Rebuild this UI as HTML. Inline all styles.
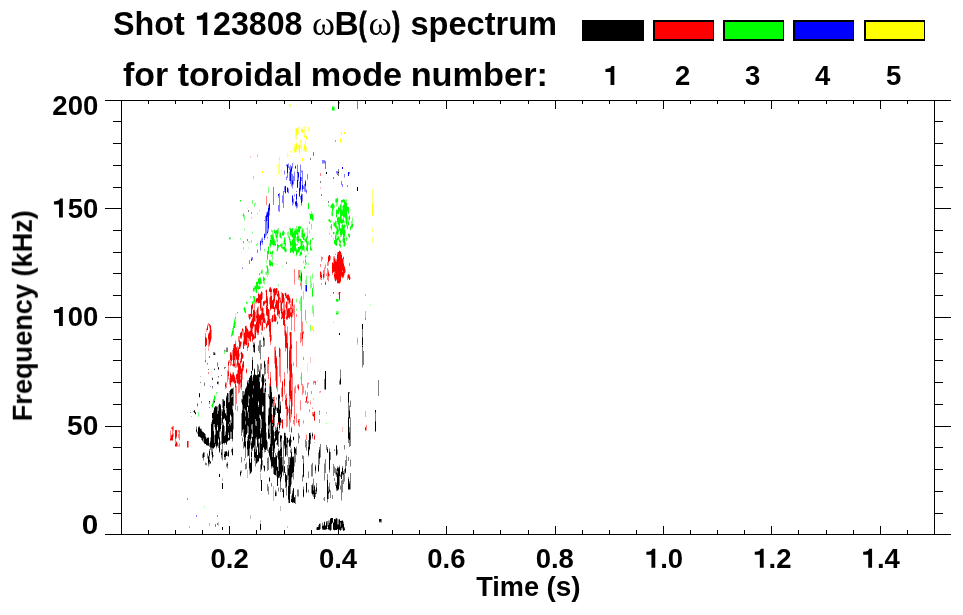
<!DOCTYPE html>
<html><head><meta charset="utf-8"><title>Shot 123808 spectrum</title>
<style>
html,body{margin:0;padding:0;background:#fff;}
body{width:963px;height:615px;overflow:hidden;font-family:"Liberation Sans",sans-serif;}
svg{display:block;}
svg text{font-family:"Liberation Sans",sans-serif;font-weight:bold;fill:#000;}
</style></head><body>
<svg width="963" height="615" viewBox="0 0 963 615">
<rect x="0" y="0" width="963" height="615" fill="#fff"/>
<g>
<g transform="translate(0.5,0)" stroke-width="1" fill="none" shape-rendering="crispEdges">
<path stroke="#ffffbf" d="M276 174v2M278 163v1M278 174v1M280 175v1M281 175v1M290 106v1M290 150v1M290 152v1M291 106v1M292 150v1M293 150v1M295 128v1M295 138v1M295 145v1M295 152v1M296 141v1M297 127v1M298 134v1M298 150v1M299 153v1M300 129v1M300 139v1M300 148v1M301 127v1M303 150v1M304 137v1M304 151v1M305 152v1M306 135v1M309 127v1M340 132v1M341 139v1M341 142v1"/>
<path stroke="#ffff80" d="M265 169v2M276 166v1M278 164v10M279 160v15M281 169v6M287 153v4M288 155v1M289 106v1M290 104v2M290 151v1M291 105v1M293 147v3M293 160v5M294 144v5M294 152v1M295 129v9M296 128v1M296 135v5M296 142v1M296 150v2M297 134v2M298 127v7M298 147v3M299 126v2M299 135v1M299 144v1M300 140v8M301 128v1M301 140v6M301 148v3M302 129v1M303 127v7M303 147v3M304 126v9M304 144v1M304 150v1M305 140v6M306 139v1M306 147v5M308 127v5M309 128v2M311 327v3M340 138v1M340 142v1M341 134v2M341 140v2M372 189v15M372 215v1M372 228v4M372 237v6"/>
<path stroke="#ffff40" d="M294 149v1M294 151v1M295 146v1M295 151v1M296 143v1M296 149v1M298 145v1M299 152v1M301 131v1M301 146v2M302 132v1M304 135v1M304 149v1M306 136v1"/>
<path stroke="#ffff00" d="M262 171v2M279 157v3M289 104v2M294 150v1M295 147v4M296 129v6M296 144v5M297 128v6M298 146v1M299 145v7M301 129v2M302 130v2M302 158v3M304 136v1M304 145v4M305 146v6M306 137v2M312 326v4M340 139v3M341 132v2M344 132v2M372 204v11"/>
<path stroke="#bfffbf" d="M204 506v2M211 404v1M212 401v1M212 408v1M213 405v1M215 396v1M216 394v1M229 239v1M230 239v1M231 332v1M234 318v1M235 313v1M235 320v1M235 325v1M237 313v1M240 239v1M241 252v1M242 215v1M243 243v1M243 249v1M244 220v1M244 228v1M244 230v1M244 312v1M245 307v1M246 301v1M247 208v1M247 304v1M248 241v2M248 247v2M249 241v1M250 298v1M251 218v1M251 296v2M252 231v1M252 233v1M254 291v1M255 204v1M255 285v1M256 281v1M257 214v1M257 245v1M257 281v1M258 285v1M259 211v1M259 275v1M260 272v2M260 284v1M260 286v1M260 288v1M261 269v1M262 269v1M263 283v1M264 251v1M264 277v1M264 284v1M265 274v1M266 260v1M266 262v2M266 271v1M267 260v1M268 254v1M268 268v1M269 259v1M270 237v1M270 247v1M270 266v1M271 229v1M271 234v1M272 230v1M272 250v1M272 260v1M272 266v1M273 233v1M273 246v1M273 250v2M274 229v1M274 233v1M275 230v1M275 237v1M275 246v1M276 249v1M276 264v1M277 228v1M277 242v2M277 251v1M277 264v1M278 248v1M278 286v1M279 232v1M279 246v1M280 231v1M280 246v1M281 235v1M281 242v1M283 230v1M283 240v1M283 246v1M284 234v1M284 251v1M285 252v1M286 248v1M287 235v1M288 231v1M289 227v1M289 236v1M289 242v1M290 227v1M290 236v1M291 241v1M292 238v1M292 252v1M293 253v1M294 251v1M294 255v1M295 251v1M296 240v1M296 256v1M296 298v1M296 302v1M296 308v1M297 228v1M297 242v2M299 240v1M299 246v1M299 253v1M299 280v1M299 300v1M300 229v1M300 238v1M300 251v1M300 256v1M300 286v1M300 297v1M301 237v1M301 239v1M302 238v1M303 228v1M303 260v1M303 263v1M303 299v1M304 232v1M305 238v1M305 249v1M305 255v1M305 279v1M306 228v2M306 236v1M306 264v1M306 275v1M306 321v1M307 239v1M307 363v9M309 213v1M309 215v1M309 233v1M309 245v1M310 213v1M310 219v1M310 288v1M311 223v1M311 229v1M311 282v1M311 287v1M312 250v1M312 273v1M312 313v1M313 220v1M313 237v1M313 316v1M313 329v1M313 331v1M328 204v1M328 221v1M329 232v1M330 205v1M331 208v1M331 211v1M331 235v1M332 216v1M333 239v1M333 321v2M334 106v1M334 222v1M335 198v1M335 220v1M335 228v1M335 245v1M336 206v1M337 197v1M337 209v1M337 217v1M337 226v1M338 206v1M338 234v2M338 240v1M338 301v1M339 206v1M339 212v1M339 246v1M340 203v1M340 223v1M340 237v1M341 207v1M342 199v1M342 202v1M342 218v1M342 234v1M342 238v1M342 241v1M343 204v1M343 246v1M344 223v1M345 222v1M345 225v1M345 227v1M345 234v1M345 245v1M346 236v1M347 215v1M347 239v1M348 216v1M348 225v1M348 233v1M349 233v1M350 209v2M350 230v1M352 217v1M370 304v2"/>
<path stroke="#80ff80" d="M198 412v5M211 405v2M212 402v2M212 407v1M213 404v1M214 395v1M215 397v2M216 392v2M217 392v1M224 352v2M225 350v2M229 237v1M230 237v2M231 333v2M231 336v1M232 328v2M232 335v1M233 323v3M233 330v1M233 333v2M234 319v1M235 314v1M235 316v1M235 319v1M235 323v2M240 201v1M240 238v1M243 213v1M243 216v2M243 247v2M243 308v2M244 215v5M244 229v1M245 308v2M246 303v1M247 302v2M249 242v1M250 296v2M251 217v1M251 240v3M252 200v4M252 232v1M252 301v1M253 176v3M253 291v1M253 298v4M253 303v1M254 203v4M254 286v1M254 290v1M254 302v1M255 203v1M255 289v3M256 244v2M257 154v3M257 213v1M257 243v2M258 278v1M258 289v1M259 210v1M259 277v1M259 284v2M260 277v1M260 287v1M261 270v1M261 273v1M261 280v2M261 283v1M262 270v4M262 286v2M263 276v1M263 281v2M264 249v2M264 280v4M265 272v2M266 261v1M266 265v3M266 272v3M267 238v1M267 265v1M267 273v4M268 187v6M268 246v1M268 269v6M269 243v3M269 265v1M270 235v2M270 238v2M270 251v1M270 260v1M271 230v2M271 244v1M271 252v1M271 254v3M271 265v1M272 232v3M272 254v6M273 230v1M273 234v3M274 239v1M274 245v1M275 234v3M275 241v3M276 238v3M276 250v1M277 229v1M277 236v4M278 228v6M278 284v2M279 233v4M280 232v1M281 236v3M281 243v1M282 231v1M282 235v1M282 243v4M282 266v1M283 241v3M283 249v1M284 232v2M284 237v1M284 244v3M285 238v5M285 246v2M286 249v3M287 232v3M288 232v4M288 237v1M289 228v2M289 240v2M290 235v1M290 239v2M290 246v2M291 236v1M291 245v3M291 251v1M292 237v1M292 239v1M293 232v1M294 229v2M295 228v2M295 238v5M296 226v3M296 234v1M296 237v3M296 244v2M296 248v1M296 255v1M296 299v3M296 309v2M297 235v1M297 249v1M298 226v1M298 232v4M298 242v1M298 252v1M299 232v1M299 238v1M299 251v1M299 254v2M299 278v2M299 301v3M300 226v1M300 242v4M300 249v1M300 270v6M300 280v3M300 298v13M300 377v2M301 227v1M301 230v7M301 240v1M301 249v3M302 228v1M302 243v3M302 250v1M303 229v5M303 244v1M303 250v1M303 261v2M303 291v8M304 237v2M304 240v1M304 246v6M304 266v1M304 268v1M305 257v3M305 263v2M305 280v4M306 243v4M306 250v1M306 255v2M306 262v2M306 276v9M306 322v1M307 227v9M307 238v1M307 241v1M307 251v1M308 241v4M308 253v1M308 263v2M309 214v1M309 221v1M309 230v3M309 243v2M310 239v1M310 245v1M310 250v1M310 276v12M310 325v6M311 211v3M311 219v1M311 224v1M311 226v3M311 248v1M311 250v1M311 283v4M312 213v1M312 239v1M312 274v5M312 305v8M313 215v5M313 238v1M313 283v5M313 306v10M313 330v1M326 423v1M328 205v2M328 219v2M329 233v2M330 206v2M330 220v1M330 222v1M330 226v2M331 204v1M331 212v4M331 220v1M331 229v1M331 236v1M332 106v1M332 110v1M332 212v1M333 106v1M333 110v1M333 203v1M333 209v1M333 222v4M333 238v1M334 107v4M334 205v3M334 226v1M334 232v2M335 199v1M335 201v2M335 233v2M336 198v1M336 203v3M336 209v1M336 217v1M336 221v5M336 229v2M336 235v4M336 301v1M336 311v2M336 314v1M337 202v3M337 222v2M337 227v1M337 236v2M337 240v2M337 311v2M337 314v1M338 225v4M338 232v2M338 236v1M338 299v2M338 311v3M339 207v1M339 211v1M339 230v1M339 238v1M339 242v2M340 204v1M340 235v2M340 240v1M340 243v1M340 247v1M341 203v4M341 208v1M341 217v1M341 223v1M341 225v3M341 236v1M342 206v4M342 219v1M342 223v1M342 239v2M343 202v1M343 217v2M343 243v3M344 199v1M344 217v1M344 221v2M344 224v1M344 228v1M344 237v1M344 246v1M345 200v2M345 219v3M345 226v1M345 231v3M345 242v3M346 199v4M346 225v1M346 237v1M346 239v2M347 206v1M347 211v1M347 216v9M347 238v1M348 213v1M348 217v5M348 236v1M349 215v1M349 220v1M351 221v4M352 218v6M352 227v1"/>
<path stroke="#40ff40" d="M213 399v1M214 400v1M224 351v1M232 330v1M233 329v1M233 332v1M234 320v1M235 317v2M244 307v1M244 311v1M245 310v1M253 297v1M253 302v1M254 287v1M254 289v1M254 296v1M258 283v1M258 286v1M259 273v1M259 278v1M267 254v1M267 259v1M267 266v1M271 239v1M271 243v1M271 253v1M272 231v1M272 244v1M272 262v1M273 245v1M274 240v1M275 245v1M276 230v1M276 233v2M277 235v1M277 240v2M277 250v1M278 247v1M279 245v1M280 244v1M281 244v1M281 247v1M282 232v1M282 248v1M283 235v1M284 238v1M284 250v1M285 245v1M285 248v1M288 236v1M290 228v1M290 245v1M291 242v1M292 228v1M296 229v1M296 249v1M297 229v1M297 241v1M297 244v1M297 253v1M298 241v1M299 239v1M299 250v1M299 277v1M300 228v1M300 241v1M300 255v1M300 279v1M301 248v1M301 254v1M302 229v1M302 237v1M303 249v1M304 233v1M304 236v1M304 239v1M305 241v1M305 262v1M306 237v1M306 247v1M309 223v1M310 244v1M310 246v1M311 225v1M312 214v1M312 220v1M312 238v1M312 288v1M312 296v1M329 219v1M329 221v1M331 224v1M332 203v1M332 215v1M333 107v1M333 204v1M333 208v1M335 200v1M335 221v1M335 227v1M335 235v1M336 202v1M336 228v1M336 231v1M336 234v1M336 245v1M337 198v1M337 210v1M337 213v1M337 234v1M337 301v1M338 207v1M338 224v1M338 229v1M338 231v1M338 239v1M339 208v1M339 210v1M339 217v1M339 239v1M339 245v1M340 228v1M340 244v1M340 246v1M341 202v1M341 209v1M341 216v1M341 218v1M341 228v1M341 235v1M342 210v1M342 215v1M342 224v1M343 199v1M343 219v1M343 222v1M343 225v1M343 242v1M344 229v1M344 236v1M345 218v1M346 224v1M347 228v1M348 235v1M349 219v1M349 234v1M349 237v1M350 226v1M350 229v1M351 227v1"/>
<path stroke="#00ff00" d="M187 498v2M212 404v3M213 400v4M214 396v4M229 238v1M231 335v1M232 331v4M233 326v3M233 331v1M234 321v7M235 322v1M237 312v1M240 200v1M243 214v2M243 241v2M244 308v3M245 311v2M246 302v1M252 302v2M253 288v3M253 296v1M254 288v1M254 297v5M255 286v3M256 282v11M257 282v7M258 279v4M258 287v2M259 274v1M259 279v5M259 286v3M260 278v6M261 271v2M261 282v1M263 277v4M264 278v2M267 237v1M267 251v3M267 255v4M267 267v6M268 247v7M269 260v5M270 240v7M270 252v2M270 261v5M271 235v4M271 240v3M271 262v3M272 235v9M272 251v3M272 263v3M273 237v8M274 230v3M274 241v4M275 231v3M275 244v1M276 231v2M276 235v3M277 230v5M277 244v6M278 245v2M280 233v5M280 245v1M281 245v2M282 233v2M282 247v1M283 231v4M283 247v2M284 239v5M284 247v3M285 243v2M285 249v3M289 237v3M290 229v6M290 241v4M290 248v5M291 229v7M291 243v2M291 248v3M292 229v8M292 240v12M293 233v20M294 231v20M295 230v8M295 243v8M296 230v4M296 250v5M297 230v5M297 236v5M297 250v3M298 227v5M298 236v5M298 247v5M299 226v6M299 247v3M300 227v1M300 239v2M300 246v3M300 252v3M300 276v3M301 241v7M301 252v2M302 230v7M302 241v2M302 246v4M303 234v6M303 245v4M304 234v2M304 267v1M305 239v2M305 256v1M305 260v2M306 238v5M306 248v2M307 236v2M307 242v9M308 203v6M309 222v1M310 214v5M310 240v4M310 247v3M311 214v5M311 249v1M312 215v5M312 289v7M329 220v1M330 221v1M331 205v3M331 225v4M332 107v3M332 204v8M332 213v2M333 108v2M333 205v3M333 232v2M334 223v3M334 240v4M335 222v5M335 236v9M336 199v3M336 210v7M336 226v2M336 232v2M336 239v6M336 299v2M336 313v1M337 199v3M337 211v2M337 218v4M337 228v6M337 238v2M337 299v2M337 313v1M338 208v6M338 217v7M338 230v1M338 237v2M339 209v1M339 218v12M339 240v2M339 244v1M340 205v18M340 229v6M340 241v2M340 245v1M341 200v2M341 210v6M341 219v4M341 229v6M342 200v2M342 211v4M342 220v3M342 225v9M343 200v2M343 205v12M343 220v2M343 226v16M344 200v17M344 225v3M344 230v6M344 238v8M345 202v16M346 203v21M346 238v1M347 207v4M347 225v3M348 207v6M348 222v3M348 234v1M349 216v3M349 235v2M350 227v2M351 225v2M352 224v3"/>
<path stroke="#bfbfff" d="M242 267v1M251 257v1M257 249v1M260 240v1M260 250v1M261 238v1M262 237v1M262 244v1M264 233v1M265 237v1M266 212v1M266 235v1M267 221v1M268 231v1M269 215v1M278 197v1M282 195v1M284 170v1M284 174v1M284 186v1M285 193v1M286 164v1M286 166v1M286 176v1M287 192v1M288 163v1M288 188v1M288 193v1M289 166v1M289 171v1M291 186v1M292 168v1M292 188v1M292 205v1M293 184v1M293 198v1M294 171v1M294 194v1M294 196v1M295 165v1M295 206v1M296 193v1M296 208v1M297 164v1M297 207v1M299 181v1M300 164v1M300 191v1M300 199v1M301 170v1M301 172v1M301 193v1M301 205v1M302 170v1M302 201v1M304 191v1M305 291v1M306 189v1M306 193v1M307 179v1M322 163v1M323 163v1M324 163v1M336 173v1M338 104v1M339 103v1M344 177v1"/>
<path stroke="#8080ff" d="M196 515v2M210 386v1M217 515v2M242 268v1M249 260v4M251 258v1M252 257v3M257 250v3M260 246v4M261 239v4M262 238v3M262 242v2M264 220v1M264 238v2M265 216v21M266 213v2M266 222v13M267 211v1M267 217v4M267 222v9M267 233v1M268 205v3M268 229v2M269 203v1M269 211v4M273 187v18M278 196v1M278 205v6M279 193v19M282 196v7M283 191v17M284 171v3M284 187v5M286 165v1M286 177v3M287 164v1M287 173v5M287 187v1M288 164v4M288 189v4M289 167v3M289 172v9M290 165v4M290 181v3M291 166v1M291 172v14M292 163v5M292 174v6M292 185v3M292 195v1M292 202v3M293 176v8M293 199v5M294 172v9M294 195v1M295 168v1M295 201v1M295 205v1M296 191v1M296 200v1M296 206v2M297 165v7M297 173v7M297 203v4M298 178v3M299 182v6M299 196v1M300 165v12M300 190v1M300 196v3M301 171v1M301 177v4M301 194v1M301 203v2M302 171v14M302 190v2M302 194v7M303 186v3M303 331v3M304 184v7M305 180v1M305 186v6M305 285v6M306 190v1M306 192v1M306 291v1M307 174v5M322 160v3M323 160v3M324 160v3M336 171v2M337 171v4M338 102v2M339 102v1M341 181v4M342 184v3M344 174v3M347 185v2M349 172v2M365 319v1"/>
<path stroke="#4040ff" d="M251 260v1M260 241v1M260 245v1M266 221v1M267 212v1M267 231v1M268 228v1M269 210v1M278 195v1M290 169v1M291 167v1M291 171v1M292 180v1M292 184v1M295 166v1M295 204v1M296 199v1M297 187v1M298 172v1M298 177v1M300 189v1M302 189v1M305 181v1M306 191v1"/>
<path stroke="#0000ff" d="M251 259v1M260 242v3M262 241v1M264 234v4M266 215v6M267 213v4M267 232v1M268 208v20M269 204v6M278 194v1M285 186v7M287 165v8M287 188v4M290 170v11M291 168v3M292 181v3M292 196v6M295 167v1M295 202v2M296 194v5M296 201v5M297 172v1M297 180v7M298 173v4M299 188v8M300 177v12M301 195v8M302 185v4M305 182v4M306 285v6M342 167v2M348 172v4"/>
<path stroke="#ffbfbf" d="M170 430v1M171 434v1M173 431v1M176 438v1M176 441v1M177 446v1M178 432v1M178 445v2M179 443v1M179 446v1M188 447v1M205 348v12M205 362v1M206 328v1M206 330v1M206 337v1M206 345v1M207 324v1M207 330v1M208 347v2M208 350v1M209 328v1M209 330v1M211 329v1M226 382v1M227 370v1M228 360v1M228 379v1M229 384v1M230 372v1M231 352v1M232 372v1M232 382v1M233 344v1M233 382v1M234 367v1M235 340v1M236 363v1M236 367v1M236 382v1M237 367v1M238 393v1M239 353v1M239 392v1M240 332v1M240 348v1M240 358v1M240 388v1M241 341v1M241 344v1M241 351v1M241 362v1M242 335v1M242 362v1M242 379v1M243 329v1M243 337v2M243 354v1M243 357v1M243 370v1M244 331v1M245 345v1M246 325v1M246 345v1M246 368v1M246 373v1M247 328v1M248 317v1M248 347v1M250 156v2M250 313v1M251 319v1M252 309v1M252 342v1M253 309v1M254 339v1M255 299v1M255 303v1M255 321v1M255 338v1M256 303v1M256 332v1M258 292v1M258 303v1M258 306v1M259 328v1M261 330v1M261 332v1M261 334v1M262 292v1M262 306v1M264 300v1M264 305v1M264 313v1M264 329v1M265 290v1M265 303v1M265 319v1M265 378v1M265 382v1M266 289v1M266 322v1M266 328v1M267 326v1M267 373v1M268 325v1M269 287v1M269 297v1M269 304v1M269 383v1M270 310v1M271 288v1M271 340v1M271 386v1M272 322v1M273 288v1M273 314v1M273 321v1M274 303v1M274 306v1M274 363v1M274 396v1M274 426v1M275 288v1M275 296v1M275 314v1M275 346v1M276 299v1M276 309v1M276 320v1M277 288v1M277 324v1M277 391v1M278 290v1M278 316v1M279 293v1M279 309v1M279 318v1M279 347v1M279 376v1M280 297v1M280 382v1M281 319v1M281 387v1M282 303v1M282 308v1M282 318v1M282 401v1M283 293v1M284 293v2M284 335v1M284 394v1M285 292v1M285 304v1M285 307v1M285 324v1M285 351v1M286 293v1M286 298v1M286 301v1M286 348v1M286 393v1M286 427v1M287 294v1M287 326v1M287 373v1M287 405v1M287 426v1M288 408v1M289 304v1M289 332v1M289 335v1M290 298v1M290 401v1M290 422v1M291 300v1M291 330v1M291 426v1M292 373v1M292 406v1M293 305v1M293 362v1M294 284v1M294 304v1M294 331v1M294 387v1M295 385v1M295 393v1M296 413v1M297 384v1M298 279v1M298 390v1M298 425v1M300 332v1M300 400v1M300 410v1M301 271v1M301 289v1M301 341v1M301 372v1M301 385v1M302 321v1M303 420v1M303 423v1M305 320v1M305 390v1M306 434v1M307 398v1M308 382v1M308 384v1M308 401v1M310 357v6M310 400v2M310 404v1M312 407v1M313 384v1M313 398v2M314 380v1M317 380v1M319 391v2M319 410v1M320 187v2M320 279v1M320 392v1M321 256v1M321 261v1M321 272v1M321 284v1M322 259v1M323 279v1M324 267v1M324 277v1M325 264v1M325 268v1M325 281v1M326 273v1M328 255v1M328 265v1M328 281v1M329 276v1M330 259v1M330 295v1M333 256v1M333 272v1M334 279v1M335 258v1M335 281v1M336 280v1M337 283v1M338 283v1M338 292v1M338 294v1M339 250v1M339 300v1M340 282v1M341 277v1M342 278v1M342 427v5M343 256v1M344 265v1M345 272v1M349 274v1M350 277v1M357 337v2M357 343v2M366 430v1"/>
<path stroke="#ff8080" d="M170 431v7M170 440v1M171 427v2M171 440v1M172 426v1M172 430v4M172 440v1M173 426v5M173 433v4M175 439v5M175 446v1M176 437v1M176 446v1M177 443v3M178 430v2M178 434v4M179 430v10M179 444v2M187 447v1M188 441v6M205 333v4M206 329v1M206 331v1M207 325v1M208 323v3M208 333v1M208 340v7M208 349v1M208 372v2M209 326v2M209 331v1M209 345v1M210 341v2M211 330v9M225 382v1M225 387v2M226 383v5M227 371v11M228 361v1M228 366v5M228 376v3M229 360v3M229 378v6M230 352v1M230 360v2M230 363v3M230 386v1M231 353v2M231 361v4M231 374v1M231 382v1M232 350v10M232 364v2M232 373v2M232 381v1M233 345v3M233 366v1M233 372v1M234 360v3M234 366v1M234 375v1M234 383v1M235 341v2M235 356v12M235 378v2M235 388v22M236 359v1M236 364v3M236 379v3M236 386v18M237 346v4M237 366v1M237 370v3M237 383v1M237 406v5M238 336v6M238 347v1M238 360v2M238 384v9M239 336v4M239 354v3M239 385v7M240 338v1M240 341v1M240 347v1M240 353v1M240 359v2M240 363v3M240 374v2M240 377v2M240 383v5M241 331v1M241 338v1M241 342v2M241 368v1M241 387v3M242 328v1M242 331v4M242 363v1M242 372v7M243 330v7M243 339v2M243 355v2M243 368v2M244 332v1M244 345v1M245 344v1M246 326v1M247 338v8M247 348v3M248 314v3M248 330v2M248 338v5M249 319v1M249 339v2M250 316v3M250 322v1M250 328v2M250 341v1M251 212v2M251 320v1M251 336v1M252 314v4M252 329v3M252 341v1M253 326v1M253 339v1M254 303v7M254 321v1M254 324v1M254 326v10M254 338v1M255 300v3M255 312v9M256 298v1M256 302v1M256 310v5M256 318v4M256 331v1M257 302v1M257 307v1M257 333v2M258 293v1M258 307v7M258 333v2M259 294v1M259 324v4M260 293v1M260 309v2M260 314v1M260 325v1M261 291v1M261 300v8M261 311v2M261 320v10M261 333v1M262 293v6M262 307v1M262 320v2M263 308v5M264 304v1M264 314v4M264 327v2M265 291v1M265 300v1M265 320v4M266 196v9M266 303v2M266 315v1M266 323v1M267 296v2M267 306v1M267 316v5M267 360v13M268 364v15M269 288v1M269 298v6M269 310v9M269 332v5M269 384v3M270 292v4M270 319v3M270 342v3M270 372v5M271 292v4M271 318v4M271 335v5M271 387v2M272 415v5M273 293v6M273 315v5M274 302v1M274 312v2M274 321v1M274 347v16M274 397v9M274 425v1M275 295v1M275 302v2M275 308v2M275 347v3M275 369v12M276 294v1M276 317v3M276 356v2M277 289v5M277 296v1M277 300v1M277 315v1M277 321v1M277 366v25M278 314v2M278 424v1M279 294v3M279 300v3M279 310v1M279 314v3M279 357v19M280 298v2M280 302v9M280 349v33M281 292v10M281 314v3M281 388v9M282 309v3M282 397v4M282 419v1M282 428v1M283 302v9M284 298v11M284 319v1M284 326v9M284 372v7M284 386v8M285 296v2M285 305v2M285 310v5M285 325v5M285 348v3M285 395v5M285 405v4M286 294v1M286 310v6M286 319v1M286 332v2M286 394v4M286 409v18M287 300v9M287 319v1M287 327v16M287 369v4M287 406v1M287 416v10M288 294v1M288 301v3M288 409v4M289 296v1M289 303v1M289 318v1M289 333v2M289 347v3M289 371v9M289 396v9M289 420v12M290 299v4M290 304v3M290 309v3M290 316v1M290 399v2M290 409v13M291 301v7M291 309v3M291 318v12M291 332v12M291 349v15M291 378v12M291 414v3M291 427v1M291 432v1M292 298v1M292 306v3M292 313v4M292 374v32M293 306v9M293 363v3M293 420v4M294 269v15M294 305v26M294 388v28M294 419v7M295 386v7M296 314v3M296 341v26M296 414v9M297 385v3M298 270v9M298 384v1M298 389v1M298 419v2M298 423v2M299 270v5M299 419v8M300 283v3M300 333v10M300 401v9M301 272v1M301 281v8M301 296v45M301 373v12M302 322v10M302 339v7M302 384v11M303 357v3M303 386v7M303 421v2M305 310v10M305 391v4M305 401v2M306 396v1M306 402v1M306 435v5M307 383v5M307 392v6M307 401v3M308 383v1M308 402v1M309 409v3M310 402v2M311 391v3M312 408v1M312 412v4M313 381v3M313 412v2M313 416v1M314 381v2M314 411v1M314 434v2M314 439v1M315 381v1M315 383v2M319 412v3M319 419v4M320 173v3M320 264v3M320 271v1M320 277v2M320 391v1M321 257v4M321 273v2M321 278v2M321 283v1M322 257v2M323 270v4M323 278v1M324 268v9M325 265v3M326 274v2M327 262v4M327 268v12M328 262v3M328 270v2M328 276v5M329 274v2M330 256v3M332 262v1M332 273v2M333 257v6M333 293v1M334 256v2M334 272v1M334 278v1M335 140v2M335 254v1M335 259v2M336 259v2M337 252v2M338 293v1M339 283v1M339 299v1M340 251v1M340 292v1M341 253v2M341 276v1M342 258v1M342 271v1M342 277v1M343 259v4M343 277v1M344 266v1M344 273v2M345 269v3M347 275v5M348 278v1M349 263v3M350 278v1M357 339v4M365 430v1M366 425v5"/>
<path stroke="#ff4040" d="M170 438v1M171 435v1M172 427v1M172 429v1M172 434v1M175 438v1M176 436v1M205 346v1M205 360v2M206 338v1M207 326v1M208 334v1M208 339v1M209 324v2M209 332v1M209 344v1M210 325v1M225 383v1M228 365v1M228 371v1M230 362v1M230 373v1M230 385v1M231 375v1M233 373v1M234 363v1M234 376v1M235 343v1M235 380v1M235 383v1M235 387v1M236 347v1M236 374v1M237 350v1M237 365v1M237 373v1M238 348v1M238 362v1M238 383v1M239 340v1M239 363v1M239 384v1M240 337v1M240 346v1M240 376v1M240 379v1M240 382v1M241 337v1M242 353v1M242 358v1M242 364v1M242 371v1M243 341v1M243 361v1M243 367v1M244 344v1M246 327v1M246 369v1M246 372v1M247 337v1M247 346v1M248 346v1M249 314v1M249 331v1M250 323v1M250 327v1M250 330v1M251 305v1M252 308v1M252 318v1M252 328v1M252 332v1M252 340v1M253 334v1M254 310v1M254 325v1M254 336v1M255 324v1M256 315v1M256 330v1M257 301v1M257 308v1M258 332v1M259 315v1M259 323v1M260 294v1M260 308v1M261 308v1M261 310v1M261 313v1M262 319v1M262 322v1M262 330v1M263 301v1M263 305v1M263 322v1M264 301v1M265 302v1M265 379v1M265 381v1M266 305v1M266 314v1M266 327v1M267 298v1M267 325v1M269 291v1M269 331v1M270 287v1M270 296v1M270 309v1M270 341v1M270 377v1M271 289v1M271 308v1M272 300v1M272 308v1M272 315v1M273 292v1M273 320v1M274 288v1M274 301v1M274 307v1M275 304v1M275 315v1M275 321v1M275 350v1M275 368v1M276 293v1M276 308v1M277 323v1M278 423v1M279 297v1M279 299v1M279 317v1M280 300v1M281 313v1M281 317v1M282 381v1M282 396v1M283 294v1M284 309v1M285 330v1M285 347v1M286 295v1M286 309v1M286 316v1M286 318v1M287 309v1M287 318v1M287 368v1M287 415v1M288 300v1M288 308v1M288 317v1M289 297v1M289 308v1M289 317v1M289 350v1M289 370v1M289 380v1M289 405v1M289 419v1M290 307v2M290 312v1M291 312v1M291 317v1M291 344v1M291 348v1M291 377v1M291 390v1M294 416v1M294 418v1M298 385v1M298 422v1M299 275v1M301 273v1M302 332v1M306 401v1M314 420v1M319 411v1M323 277v1M325 282v1M325 284v1M328 256v1M328 272v1M333 263v1M334 258v1M334 271v1M334 273v1M334 277v1M335 273v1M336 261v1M336 279v1M337 254v1M340 281v1M342 270v1M343 257v1M343 263v1M343 276v1M348 274v1M349 275v1M365 427v1"/>
<path stroke="#ff0000" d="M170 439v1M171 436v4M172 428v1M172 435v5M175 430v8M175 444v2M176 430v6M176 442v4M187 441v6M205 337v9M206 339v6M207 327v3M208 335v4M209 333v11M210 326v15M225 384v3M228 362v3M228 372v4M230 353v7M230 374v11M231 355v6M231 376v6M232 375v6M233 348v18M233 374v8M234 344v16M234 364v2M234 377v6M235 344v12M235 381v2M235 384v3M236 348v11M236 375v4M237 351v14M237 374v9M238 349v11M238 363v20M239 341v8M239 364v20M240 333v4M240 342v4M240 361v2M240 366v8M240 380v2M241 332v5M241 352v10M241 369v18M242 329v2M242 354v4M242 365v6M243 342v7M243 362v5M244 333v11M245 326v18M246 328v17M246 370v2M247 329v8M247 347v1M248 332v6M248 343v3M249 315v4M249 332v7M250 314v2M250 324v3M250 331v10M251 306v11M251 321v15M252 304v4M252 319v9M252 333v7M253 310v16M253 335v4M254 311v10M254 337v1M255 325v13M256 299v3M256 316v2M256 322v8M257 298v3M257 309v24M258 294v9M258 314v18M259 295v8M259 316v7M260 295v13M260 315v10M261 292v8M261 309v1M261 314v6M262 308v11M262 323v7M263 302v3M263 313v9M264 302v2M264 318v5M265 301v1M265 380v1M266 290v13M266 306v8M266 324v3M267 299v7M267 307v9M267 321v4M268 309v16M268 357v7M269 289v2M269 319v12M270 288v4M270 297v12M270 322v19M270 378v8M271 290v2M271 296v12M271 409v5M272 301v7M272 316v6M272 420v3M273 289v3M273 299v10M274 289v12M274 308v4M274 314v7M275 289v6M275 305v3M275 316v5M275 351v17M276 288v5M276 300v8M276 358v28M277 294v2M277 301v14M277 322v1M278 291v23M278 422v1M279 298v1M279 311v3M279 348v9M280 301v1M281 302v11M281 318v1M282 293v10M282 312v6M282 382v14M282 420v8M283 295v7M283 311v14M284 310v9M284 320v6M284 379v7M285 293v3M285 331v16M285 400v5M286 296v2M286 302v7M286 317v1M286 334v14M286 398v11M287 295v5M287 310v8M287 343v25M287 407v8M288 295v5M288 309v8M289 298v5M289 309v8M289 351v19M289 381v15M289 406v13M290 313v3M290 332v67M291 308v1M291 313v4M291 345v3M291 364v13M291 391v23M291 428v4M292 299v7M292 309v4M294 417v1M298 386v3M298 421v1M299 276v1M301 274v7M302 333v6M306 397v4M313 414v2M314 412v8M314 436v3M315 382v1M320 272v5M321 275v3M323 274v3M325 283v1M328 257v5M328 273v3M329 255v6M332 263v10M333 264v8M333 292v1M334 259v12M334 274v3M335 261v12M335 274v7M336 262v17M337 255v28M338 252v31M339 251v32M339 292v7M340 252v29M341 255v21M342 259v11M342 272v5M343 258v1M343 264v12M344 267v6M348 275v3M349 276v4M365 428v2"/>
<path stroke="#bfbfbf" d="M189 526v2M191 416v1M195 414v1M196 426v1M196 432v1M197 403v1M197 406v1M197 431v1M198 426v1M199 397v1M200 376v1M200 428v1M201 401v1M201 428v1M202 441v1M203 442v1M203 460v1M204 382v1M204 452v1M205 462v1M206 437v1M206 445v1M206 465v1M207 364v1M207 437v1M207 453v1M207 458v1M208 455v1M208 466v1M209 464v1M209 523v3M210 437v1M211 454v1M212 377v1M212 388v1M212 460v1M213 410v1M213 456v1M214 368v1M214 447v1M215 353v2M216 448v1M217 362v1M217 366v1M217 381v1M217 406v1M217 446v1M218 377v1M218 381v1M218 384v1M218 439v1M218 442v1M218 522v4M219 403v1M220 431v1M220 441v1M221 409v1M221 417v1M221 431v1M221 458v1M222 460v1M222 478v3M223 419v1M223 422v1M223 443v1M224 400v1M224 444v1M224 451v1M225 431v1M226 347v1M226 395v1M226 463v1M227 347v1M227 452v1M227 468v1M228 393v1M228 437v1M229 440v1M230 389v1M230 415v1M231 388v1M231 452v1M232 441v1M232 447v1M232 455v1M233 387v1M233 412v1M233 429v1M240 470v1M240 476v1M241 402v1M241 462v1M241 470v1M242 432v1M242 437v1M242 441v1M243 448v1M244 391v1M244 447v1M244 458v1M244 460v1M245 469v1M246 462v1M247 380v1M247 410v1M247 436v1M247 438v1M247 456v1M247 470v8M248 403v2M249 377v1M249 471v4M250 375v1M250 445v1M250 462v1M250 515v4M251 438v1M251 472v1M252 377v1M252 434v1M252 436v1M253 342v1M253 374v1M254 342v1M254 368v1M255 374v1M255 466v1M256 439v1M256 446v1M257 447v1M258 345v1M258 365v1M258 402v1M259 340v1M259 369v1M259 442v1M259 458v1M260 359v1M260 363v1M260 377v1M260 416v1M260 419v1M260 430v1M260 464v1M260 473v8M260 520v4M261 363v1M261 369v1M261 377v1M261 386v1M261 470v1M262 411v1M262 457v1M262 465v1M263 336v1M263 465v1M263 467v1M264 360v1M264 375v1M264 378v1M264 382v1M264 388v1M264 452v1M264 465v1M264 471v1M266 424v2M266 432v1M267 441v1M268 397v1M268 408v1M268 449v1M268 486v1M268 494v1M269 439v1M270 434v2M270 461v1M271 468v1M271 486v1M272 467v1M273 486v15M274 452v1M275 426v1M275 475v1M275 496v1M276 388v1M276 397v1M276 399v1M276 407v1M276 427v1M276 440v1M276 444v1M276 476v1M276 491v1M277 407v1M277 445v1M277 452v1M277 457v1M277 466v1M278 430v1M278 448v1M278 478v1M278 487v1M278 491v1M280 401v1M280 413v1M280 417v1M280 425v1M280 506v5M281 419v1M281 478v1M281 489v1M282 472v1M282 488v1M283 440v1M283 475v1M283 488v1M284 432v1M284 448v1M284 460v1M286 437v1M286 495v1M287 437v1M287 456v1M287 526v2M288 442v1M290 434v1M290 449v1M290 456v1M291 442v1M291 448v1M291 484v1M291 495v1M292 456v1M292 490v1M293 436v1M293 440v1M293 479v1M294 466v1M295 462v1M296 446v1M297 489v1M297 496v1M298 443v1M298 489v1M298 496v1M299 435v1M299 438v1M302 481v1M303 477v1M303 486v1M303 497v1M305 439v1M305 447v1M306 450v1M306 482v1M308 456v1M308 471v1M308 489v1M308 492v1M309 450v1M310 432v1M311 464v1M311 476v1M311 493v1M312 432v1M312 438v1M312 476v1M312 483v1M312 495v1M313 478v1M314 442v1M315 464v1M315 473v1M315 489v1M316 527v1M318 452v1M319 464v1M319 523v1M320 457v1M320 523v1M322 522v1M323 498v2M323 524v1M324 389v1M324 463v1M324 480v1M324 521v1M326 412v2M326 529v1M327 502v1M328 486v1M328 520v1M329 448v1M329 472v1M329 482v1M329 492v1M329 520v1M329 530v1M330 490v1M334 449v1M334 466v1M334 530v1M335 474v1M335 518v1M336 482v1M337 449v1M337 454v1M337 466v1M337 518v1M337 529v1M338 519v1M338 530v1M339 380v1M339 384v1M339 465v1M339 485v1M340 369v1M340 396v6M340 474v1M340 485v1M340 489v1M341 471v1M341 480v1M341 500v1M341 520v1M342 475v1M342 479v1M342 492v1M342 529v1M343 521v1M344 449v1M344 481v1M344 530v1M345 473v1M346 455v1M349 393v1M349 405v1M349 418v1M350 400v1M350 417v1M350 459v1M350 466v1M350 489v1M362 367v1M365 294v2M365 311v7M365 411v6M379 522v1M380 522v1M381 522v1"/>
<path stroke="#808080" d="M190 412v1M193 411v1M196 427v2M197 405v1M197 432v2M198 436v1M199 426v1M200 382v1M200 437v1M201 402v1M201 429v1M201 438v2M202 431v1M202 454v4M203 439v3M203 452v1M203 458v2M204 383v3M204 443v1M204 453v4M205 434v2M205 463v2M206 438v1M206 463v2M207 363v1M207 445v1M207 454v4M208 369v1M208 437v1M208 464v2M209 356v2M209 402v2M209 407v1M209 443v4M209 449v2M209 456v4M209 462v2M210 438v3M210 448v2M210 461v1M210 463v1M211 422v2M211 448v6M212 386v2M212 418v2M212 448v4M212 458v2M213 352v3M213 411v1M213 424v7M213 448v1M213 455v1M214 352v1M214 402v1M214 407v1M214 424v3M214 435v8M215 430v4M215 444v2M215 524v3M216 406v1M216 447v1M217 363v3M217 407v7M217 425v2M217 430v1M217 523v2M218 369v1M218 376v1M218 382v2M218 405v6M218 443v5M219 432v5M219 452v1M220 404v1M220 429v2M220 442v3M221 375v1M221 410v6M221 418v7M221 432v12M221 449v3M221 455v3M222 399v9M222 409v2M222 423v2M222 444v16M223 399v1M223 423v2M224 350v1M224 367v2M224 406v4M224 418v1M224 426v10M224 443v1M224 452v2M224 457v3M225 367v1M225 420v1M225 432v3M225 451v1M225 457v3M226 348v4M226 396v1M226 408v7M226 444v1M226 464v3M227 348v4M227 441v1M227 453v3M227 462v2M227 466v2M228 394v8M228 424v2M228 433v2M228 440v1M228 450v1M228 456v1M229 391v11M229 422v2M230 420v5M230 432v7M231 396v1M231 417v6M231 432v7M231 449v3M232 388v1M232 394v3M232 406v3M232 439v2M232 448v1M233 388v18M233 413v16M240 471v1M240 475v1M241 399v3M241 413v23M241 457v5M241 471v2M242 391v8M242 405v5M242 430v2M242 438v3M243 391v4M243 429v8M243 442v6M244 392v2M244 409v2M244 446v1M244 459v1M245 388v1M245 410v6M245 421v3M245 438v3M245 448v10M245 464v5M246 386v1M246 434v1M246 463v6M247 239v2M247 381v1M247 411v1M247 426v7M247 437v1M247 439v2M247 450v6M248 210v2M248 380v3M248 396v7M248 405v1M248 412v6M248 427v8M249 397v2M249 439v1M249 449v9M249 469v2M250 440v5M250 473v1M251 374v1M251 425v4M251 434v4M251 441v2M251 449v3M251 457v1M252 357v3M252 370v1M252 378v3M252 395v2M252 424v10M252 449v2M253 343v2M253 348v4M253 386v2M253 447v1M254 343v1M254 352v1M254 446v3M254 457v4M255 419v6M255 439v13M255 458v8M256 421v5M256 437v2M256 447v2M256 463v1M257 364v11M257 462v1M258 346v5M258 366v6M258 401v1M258 405v2M258 439v4M258 461v1M259 341v12M259 370v1M259 377v5M259 415v3M259 438v1M259 443v9M260 340v19M260 364v13M260 388v1M260 415v1M260 420v9M260 431v2M260 458v1M260 465v7M261 345v2M261 364v5M261 378v4M261 387v1M261 419v9M261 438v6M261 469v1M262 405v2M262 450v7M262 460v5M263 337v1M263 341v6M263 374v1M263 386v7M263 406v5M263 447v1M263 466v1M264 338v8M264 368v7M264 379v3M264 389v4M264 449v3M265 364v10M265 386v2M265 392v30M265 450v2M266 433v7M266 449v1M267 442v9M267 458v4M267 463v8M267 484v7M268 394v3M268 409v6M268 426v3M268 450v3M268 457v13M268 487v7M269 387v9M269 399v8M269 425v8M269 438v1M269 456v1M269 477v1M269 481v1M270 423v11M270 436v8M270 460v1M271 389v3M271 467v1M271 483v3M272 397v2M272 404v3M272 424v2M272 446v5M272 452v5M272 466v1M273 397v3M273 401v7M273 427v3M273 468v6M274 406v2M274 417v8M274 432v4M274 438v1M274 449v3M275 403v2M275 410v5M275 427v4M275 441v1M275 453v4M275 490v2M276 386v2M276 398v1M276 408v3M276 428v2M276 443v1M276 455v1M276 471v5M276 492v4M277 423v4M277 453v4M278 394v1M278 431v1M278 435v12M278 449v2M278 460v11M278 488v3M279 394v1M279 399v10M279 428v2M279 431v2M279 450v1M279 477v1M280 402v3M280 423v2M280 442v7M280 475v2M280 482v10M281 420v3M281 435v1M281 439v8M281 477v1M281 488v1M282 457v8M282 489v2M283 441v34M283 497v1M284 446v2M284 461v3M285 433v3M285 456v1M285 472v2M285 482v6M286 262v2M286 438v6M286 448v7M286 487v8M287 443v13M287 465v15M288 440v2M288 457v11M288 476v10M288 500v3M289 438v1M289 446v1M289 457v8M290 435v1M290 446v2M290 450v3M290 457v1M290 487v7M291 440v2M291 449v3M291 478v6M291 496v3M292 473v4M292 491v2M293 456v1M293 472v7M293 502v1M294 454v12M295 448v1M295 454v8M295 495v9M296 447v8M297 490v6M298 433v10M298 490v6M299 436v2M302 455v4M302 475v6M303 456v7M303 487v2M305 440v7M306 441v9M306 492v1M308 440v7M308 455v1M308 472v6M308 490v2M309 449v1M310 158v2M310 433v2M310 440v4M311 465v11M311 485v8M312 433v1M312 436v2M312 463v13M312 484v1M312 494v1M313 152v4M313 479v11M313 494v3M314 485v1M315 465v1M315 471v2M315 490v3M315 494v3M316 483v4M316 492v2M316 528v2M318 453v12M318 471v1M318 525v2M319 447v3M319 459v5M320 181v2M320 444v13M320 524v5M321 194v2M322 523v3M322 529v1M323 525v1M324 379v10M324 464v16M324 497v4M325 161v8M325 389v1M325 459v14M325 525v1M326 445v5M326 521v1M327 447v2M327 452v1M327 474v6M327 499v3M327 521v6M327 528v1M328 201v2M328 487v4M328 494v5M328 521v4M328 529v1M329 449v2M329 470v2M329 483v6M329 521v2M330 452v8M330 491v7M330 518v1M330 530v1M331 524v6M332 495v4M333 177v2M333 464v12M333 522v1M334 450v1M334 467v6M334 478v3M335 468v6M335 482v4M336 455v1M336 469v3M336 475v2M336 483v2M336 489v2M337 450v4M337 467v1M337 471v2M337 490v1M337 519v5M338 169v3M338 173v3M338 467v1M338 489v1M338 520v4M339 381v3M339 466v1M339 476v9M340 370v8M340 384v1M340 475v2M340 486v3M340 523v3M340 530v1M341 481v19M341 528v2M342 466v2M342 474v1M342 480v12M342 520v1M342 528v1M343 471v2M343 475v9M343 522v2M344 445v4M344 469v12M344 527v1M345 460v8M346 456v10M348 403v14M348 439v4M348 457v4M348 477v2M348 489v1M349 392v1M349 406v4M349 427v5M349 440v7M349 481v2M349 489v1M350 401v6M350 418v28M350 460v6M350 473v16M357 101v8M362 329v8M362 345v1M362 347v20M363 351v14M365 318v1M375 413v8M375 431v1M378 380v16M381 519v3"/>
<path stroke="#404040" d="M194 410v1M194 412v1M195 412v1M196 429v1M196 431v1M197 404v1M198 427v1M199 393v1M199 427v1M199 436v1M201 430v1M202 440v1M203 432v1M203 438v1M203 457v1M204 433v1M205 436v1M208 445v1M208 456v1M208 463v1M209 455v1M210 441v1M210 447v1M211 447v1M212 378v2M212 457v1M213 412v1M214 353v1M214 369v1M215 406v1M215 429v1M215 434v1M216 446v1M217 383v1M217 445v1M218 367v1M218 438v1M219 431v1M219 437v1M219 451v1M220 405v1M221 452v1M222 411v1M222 425v1M223 400v1M225 413v1M225 442v1M226 397v1M226 415v1M226 451v1M227 465v1M228 402v1M228 432v1M228 451v1M230 414v1M230 425v1M230 431v1M231 395v1M231 397v1M231 416v1M232 405v1M232 409v1M242 399v1M242 404v1M242 410v1M243 395v1M244 394v1M244 408v1M244 411v1M245 389v1M245 416v1M245 424v1M245 437v1M245 441v1M245 447v1M246 387v1M247 382v1M247 412v1M247 425v1M247 449v1M248 383v1M248 395v1M248 426v1M248 455v1M249 396v1M249 440v1M249 448v1M249 458v1M249 468v1M250 439v1M251 373v1M251 424v1M251 429v1M251 433v1M251 458v1M251 471v1M252 394v1M252 397v1M252 448v1M253 347v1M253 375v1M253 385v1M253 388v1M254 344v1M254 369v1M254 445v1M255 425v1M255 438v1M256 375v1M256 449v1M257 446v1M257 461v1M258 374v1M258 443v1M259 371v1M259 414v1M259 452v1M260 433v1M261 428v1M261 437v1M262 374v1M263 340v1M263 375v1M263 385v1M263 411v1M264 361v1M264 367v1M264 470v1M265 385v1M265 422v1M266 448v1M267 462v1M268 415v1M268 425v1M268 438v1M269 407v1M269 424v1M269 433v1M269 437v1M269 447v1M269 455v1M270 422v1M270 459v1M271 407v2M271 466v1M272 403v1M272 445v1M273 426v1M273 430v1M273 467v1M274 408v1M274 439v1M274 448v1M274 457v1M274 474v1M275 405v1M275 409v1M275 492v1M276 470v1M277 444v1M278 434v1M278 459v1M278 477v1M279 395v1M279 398v1M279 409v1M279 476v1M280 405v1M280 422v1M280 435v1M280 441v1M280 456v2M280 474v1M280 481v1M281 438v1M281 447v1M281 456v1M282 465v1M282 471v1M282 491v1M283 489v1M284 445v1M284 466v1M284 472v1M286 444v1M286 447v1M286 475v1M286 486v1M288 468v1M288 475v1M288 499v1M289 439v1M290 436v1M290 445v1M290 486v1M291 477v1M292 493v1M292 502v1M293 457v1M293 488v1M294 453v1M294 497v1M295 453v1M303 463v1M303 476v1M303 489v1M303 496v1M310 439v1M312 485v1M313 490v1M314 486v1M315 466v1M315 470v1M316 487v1M316 491v1M319 458v1M319 529v1M322 528v1M323 529v1M324 529v1M325 529v1M326 522v1M328 491v1M328 493v1M329 451v1M329 469v1M329 489v1M329 491v1M329 529v1M332 522v1M333 529v1M335 519v1M336 445v1M336 454v1M336 472v1M336 474v1M336 488v1M336 518v1M337 473v1M337 524v1M338 468v1M338 524v1M339 467v1M339 519v1M339 529v1M340 378v1M340 522v1M340 526v1M342 527v1M343 474v1M343 530v1M344 528v1M345 468v1M345 472v1M348 392v1M348 402v1M348 417v1M348 438v1M349 410v1M349 432v1M349 483v1M362 337v1M375 412v1M375 421v1M379 521v1M380 521v1"/>
<path stroke="#000000" d="M194 411v1M195 413v1M196 430v1M198 428v8M199 394v3M199 428v8M200 429v8M201 431v7M202 432v8M203 433v5M203 453v4M204 434v9M205 437v7M206 439v6M207 438v7M208 438v7M208 457v6M209 401v1M209 451v4M209 460v2M210 442v5M210 462v1M211 424v23M212 413v5M212 420v28M212 452v5M213 413v11M213 431v17M214 354v1M214 401v1M214 408v16M214 443v4M215 407v22M215 435v9M216 407v39M217 382v1M217 414v11M217 431v14M218 368v1M218 411v27M219 404v27M219 438v13M219 474v3M220 406v23M221 453v2M222 412v11M222 426v18M222 483v6M222 527v3M223 401v18M223 425v18M224 401v5M224 410v8M224 436v7M224 454v3M225 414v6M225 435v7M225 452v5M226 398v10M226 416v28M226 452v4M227 393v48M227 464v1M228 403v21M228 426v6M228 438v2M228 452v4M229 402v20M229 424v16M230 390v24M230 426v5M231 389v6M231 398v18M231 423v9M232 389v5M232 397v8M232 410v29M232 449v6M240 472v3M242 400v4M242 411v19M243 396v33M244 395v13M244 412v34M245 390v20M245 417v4M245 425v12M245 442v5M246 388v46M247 383v24M247 413v12M247 441v8M248 384v11M248 406v6M248 418v8M248 435v20M249 378v18M249 399v40M249 441v7M249 459v9M250 376v63M250 463v10M251 371v2M251 375v49M251 430v3M251 443v6M251 452v5M251 459v12M252 360v10M252 381v13M252 398v26M252 437v11M253 345v2M253 376v9M253 389v58M254 345v7M254 370v75M254 449v8M255 375v44M255 426v12M255 452v6M256 376v45M256 426v11M256 450v13M257 375v71M257 455v6M258 375v26M258 407v32M258 444v17M259 372v5M259 382v32M259 418v20M259 453v5M260 389v26M260 434v24M260 524v6M261 388v31M261 429v8M261 444v25M261 480v11M262 375v30M262 412v38M263 338v2M263 376v9M263 393v13M263 412v35M264 362v5M264 393v56M264 466v4M265 383v2M265 388v4M265 423v27M266 440v8M268 416v9M268 429v9M269 396v3M269 408v16M269 434v3M269 448v7M269 478v3M270 386v36M270 444v15M271 392v15M271 414v52M272 399v4M272 423v1M272 426v19M272 457v9M273 400v1M273 408v18M273 431v36M274 409v8M274 440v8M274 458v16M275 406v3M275 431v10M275 457v18M275 493v3M276 430v10M276 456v14M277 408v5M277 427v17M277 467v19M278 395v27M278 432v2M278 451v8M278 471v6M279 396v2M279 410v18M279 451v25M280 406v7M280 418v4M280 436v5M280 449v7M280 458v16M280 477v4M281 436v2M281 448v8M281 457v20M282 466v5M283 490v7M284 433v12M284 467v5M285 436v20M285 474v8M286 445v2M286 476v10M287 438v5M288 469v6M288 486v13M289 440v6M289 465v38M290 437v8M290 458v28M291 452v25M291 499v3M292 457v16M292 494v8M293 437v3M293 458v14M293 489v13M294 447v6M294 498v5M295 449v4M303 464v12M303 490v6M306 483v9M308 447v8M309 433v16M310 435v4M312 434v2M312 486v8M313 491v3M314 487v12M315 467v3M315 493v1M316 488v3M317 527v3M318 465v6M318 527v3M319 450v8M319 524v5M322 526v2M323 526v3M324 522v7M325 371v18M325 526v3M326 172v2M326 523v6M327 449v3M327 480v19M328 492v1M328 525v4M329 452v17M329 490v1M329 523v6M330 519v11M331 518v6M332 518v4M333 523v6M334 519v11M335 520v10M336 446v8M336 473v1M336 485v3M336 519v11M337 468v3M337 474v16M337 525v4M338 172v1M338 469v20M338 525v5M339 333v2M339 468v8M339 520v9M340 379v5M340 521v1M340 527v3M341 472v7M341 521v7M342 468v6M342 521v6M343 473v1M343 524v6M344 529v1M345 469v3M348 393v9M348 418v20M348 479v10M349 411v7M349 433v7M349 484v5M357 187v4M362 324v5M362 338v7M362 346v1M375 410v2M375 422v9M379 519v2M380 519v2"/>
</g>
</g>
<g shape-rendering="crispEdges">
<rect x="105" y="100" width="846" height="1" fill="#000"/>
<rect x="105" y="534" width="846" height="1" fill="#000"/>
<rect x="121" y="100" width="1" height="435" fill="#000"/>
<rect x="934" y="100" width="1" height="435" fill="#000"/>
<rect x="105" y="534" width="16" height="1" fill="#000"/>
<rect x="934" y="534" width="17" height="1" fill="#000"/>
<rect x="113" y="513" width="8" height="1" fill="#000"/>
<rect x="934" y="513" width="9" height="1" fill="#000"/>
<rect x="113" y="491" width="8" height="1" fill="#000"/>
<rect x="934" y="491" width="9" height="1" fill="#000"/>
<rect x="113" y="469" width="8" height="1" fill="#000"/>
<rect x="934" y="469" width="9" height="1" fill="#000"/>
<rect x="113" y="447" width="8" height="1" fill="#000"/>
<rect x="934" y="447" width="9" height="1" fill="#000"/>
<rect x="105" y="426" width="16" height="1" fill="#000"/>
<rect x="934" y="426" width="17" height="1" fill="#000"/>
<rect x="113" y="404" width="8" height="1" fill="#000"/>
<rect x="934" y="404" width="9" height="1" fill="#000"/>
<rect x="113" y="382" width="8" height="1" fill="#000"/>
<rect x="934" y="382" width="9" height="1" fill="#000"/>
<rect x="113" y="360" width="8" height="1" fill="#000"/>
<rect x="934" y="360" width="9" height="1" fill="#000"/>
<rect x="113" y="339" width="8" height="1" fill="#000"/>
<rect x="934" y="339" width="9" height="1" fill="#000"/>
<rect x="105" y="317" width="16" height="1" fill="#000"/>
<rect x="934" y="317" width="17" height="1" fill="#000"/>
<rect x="113" y="295" width="8" height="1" fill="#000"/>
<rect x="934" y="295" width="9" height="1" fill="#000"/>
<rect x="113" y="273" width="8" height="1" fill="#000"/>
<rect x="934" y="273" width="9" height="1" fill="#000"/>
<rect x="113" y="252" width="8" height="1" fill="#000"/>
<rect x="934" y="252" width="9" height="1" fill="#000"/>
<rect x="113" y="230" width="8" height="1" fill="#000"/>
<rect x="934" y="230" width="9" height="1" fill="#000"/>
<rect x="105" y="208" width="16" height="1" fill="#000"/>
<rect x="934" y="208" width="17" height="1" fill="#000"/>
<rect x="113" y="187" width="8" height="1" fill="#000"/>
<rect x="934" y="187" width="9" height="1" fill="#000"/>
<rect x="113" y="165" width="8" height="1" fill="#000"/>
<rect x="934" y="165" width="9" height="1" fill="#000"/>
<rect x="113" y="143" width="8" height="1" fill="#000"/>
<rect x="934" y="143" width="9" height="1" fill="#000"/>
<rect x="113" y="121" width="8" height="1" fill="#000"/>
<rect x="934" y="121" width="9" height="1" fill="#000"/>
<rect x="105" y="100" width="16" height="1" fill="#000"/>
<rect x="934" y="100" width="17" height="1" fill="#000"/>
<rect x="148" y="100" width="1" height="4" fill="#000"/>
<rect x="148" y="530" width="1" height="5" fill="#000"/>
<rect x="175" y="100" width="1" height="4" fill="#000"/>
<rect x="175" y="530" width="1" height="5" fill="#000"/>
<rect x="202" y="100" width="1" height="4" fill="#000"/>
<rect x="202" y="530" width="1" height="5" fill="#000"/>
<rect x="229" y="100" width="1" height="9" fill="#000"/>
<rect x="229" y="526" width="1" height="9" fill="#000"/>
<rect x="256" y="100" width="1" height="4" fill="#000"/>
<rect x="256" y="530" width="1" height="5" fill="#000"/>
<rect x="284" y="100" width="1" height="4" fill="#000"/>
<rect x="284" y="530" width="1" height="5" fill="#000"/>
<rect x="311" y="100" width="1" height="4" fill="#000"/>
<rect x="311" y="530" width="1" height="5" fill="#000"/>
<rect x="338" y="100" width="1" height="9" fill="#000"/>
<rect x="338" y="526" width="1" height="9" fill="#000"/>
<rect x="365" y="100" width="1" height="4" fill="#000"/>
<rect x="365" y="530" width="1" height="5" fill="#000"/>
<rect x="392" y="100" width="1" height="4" fill="#000"/>
<rect x="392" y="530" width="1" height="5" fill="#000"/>
<rect x="419" y="100" width="1" height="4" fill="#000"/>
<rect x="419" y="530" width="1" height="5" fill="#000"/>
<rect x="446" y="100" width="1" height="9" fill="#000"/>
<rect x="446" y="526" width="1" height="9" fill="#000"/>
<rect x="473" y="100" width="1" height="4" fill="#000"/>
<rect x="473" y="530" width="1" height="5" fill="#000"/>
<rect x="500" y="100" width="1" height="4" fill="#000"/>
<rect x="500" y="530" width="1" height="5" fill="#000"/>
<rect x="528" y="100" width="1" height="4" fill="#000"/>
<rect x="528" y="530" width="1" height="5" fill="#000"/>
<rect x="555" y="100" width="1" height="9" fill="#000"/>
<rect x="555" y="526" width="1" height="9" fill="#000"/>
<rect x="582" y="100" width="1" height="4" fill="#000"/>
<rect x="582" y="530" width="1" height="5" fill="#000"/>
<rect x="609" y="100" width="1" height="4" fill="#000"/>
<rect x="609" y="530" width="1" height="5" fill="#000"/>
<rect x="636" y="100" width="1" height="4" fill="#000"/>
<rect x="636" y="530" width="1" height="5" fill="#000"/>
<rect x="663" y="100" width="1" height="9" fill="#000"/>
<rect x="663" y="526" width="1" height="9" fill="#000"/>
<rect x="690" y="100" width="1" height="4" fill="#000"/>
<rect x="690" y="530" width="1" height="5" fill="#000"/>
<rect x="717" y="100" width="1" height="4" fill="#000"/>
<rect x="717" y="530" width="1" height="5" fill="#000"/>
<rect x="744" y="100" width="1" height="4" fill="#000"/>
<rect x="744" y="530" width="1" height="5" fill="#000"/>
<rect x="771" y="100" width="1" height="9" fill="#000"/>
<rect x="771" y="526" width="1" height="9" fill="#000"/>
<rect x="798" y="100" width="1" height="4" fill="#000"/>
<rect x="798" y="530" width="1" height="5" fill="#000"/>
<rect x="826" y="100" width="1" height="4" fill="#000"/>
<rect x="826" y="530" width="1" height="5" fill="#000"/>
<rect x="853" y="100" width="1" height="4" fill="#000"/>
<rect x="853" y="530" width="1" height="5" fill="#000"/>
<rect x="880" y="100" width="1" height="9" fill="#000"/>
<rect x="880" y="526" width="1" height="9" fill="#000"/>
<rect x="907" y="100" width="1" height="4" fill="#000"/>
<rect x="907" y="530" width="1" height="5" fill="#000"/>
</g>
<g shape-rendering="crispEdges">
<rect x="582" y="20" width="62" height="21" fill="#000"/>
<rect x="653" y="20" width="61" height="21" fill="#000"/>
<rect x="655" y="22" width="58" height="17" fill="#ff0000"/>
<rect x="723" y="20" width="61" height="21" fill="#000"/>
<rect x="725" y="22" width="58" height="17" fill="#00ff00"/>
<rect x="793" y="20" width="61" height="21" fill="#000"/>
<rect x="795" y="22" width="58" height="17" fill="#0000ff"/>
<rect x="864" y="20" width="61" height="21" fill="#000"/>
<rect x="866" y="22" width="58" height="17" fill="#ffff00"/>
</g>
<g opacity="0.999">
<g transform="translate(113.00,35) scale(0.9972,1)"><text x="0.00" y="0" font-size="32.4">Shot</text></g>
<g transform="translate(195.11,35) scale(0.9933,1)"><path transform="translate(0.00,0) scale(0.03240,-0.03240)" d="M378 0H238V472H54V584Q165 588 217 614Q260 638 275 692H378Z" fill="#000"/><text x="18.01" y="0" font-size="32.4">23808</text></g>
<g transform="translate(312.02,35) scale(1.0278,1)"><text x="0.00" y="0" font-size="34" style="font-family:&quot;Liberation Serif&quot;,serif;font-weight:normal">ω</text></g>
<g transform="translate(334.48,35) scale(1.0329,1)"><text x="0.00" y="0" font-size="32.4">B</text></g>
<g transform="translate(358.78,35) scale(0.7135,1)"><text x="0.00" y="0" font-size="32.4" stroke="#000" stroke-width="0.9">(</text></g>
<g transform="translate(368.40,35) scale(1.0430,1)"><text x="0.00" y="0" font-size="34" style="font-family:&quot;Liberation Serif&quot;,serif;font-weight:normal">ω</text></g>
<g transform="translate(392.15,35) scale(0.7351,1)"><text x="0.00" y="0" font-size="32.4" stroke="#000" stroke-width="0.9">)</text></g>
<g transform="translate(410.44,35) scale(1.0056,1)"><text x="0.00" y="0" font-size="32.4">spectrum</text></g>
<g transform="translate(123.10,85.7) scale(0.9933,1)"><text x="0.00" y="0" font-size="34.1">for</text></g>
<g transform="translate(177.70,85.7) scale(0.9975,1)"><text x="0.00" y="0" font-size="34.1">toroidal</text></g>
<g transform="translate(310.74,85.7) scale(1.0057,1)"><text x="0.00" y="0" font-size="34.1">mode</text></g>
<g transform="translate(410.63,85.7) scale(1.0073,1)"><text x="0.00" y="0" font-size="34.1">number:</text></g>
<g transform="translate(52.30,115) scale(1.0034,1)"><text x="0.00" y="0" font-size="27.5">200</text></g>
<g transform="translate(52.45,217.5) scale(1.0000,1)"><path transform="translate(0.00,0) scale(0.02750,-0.02750)" d="M378 0H238V472H54V584Q165 588 217 614Q260 638 275 692H378Z" fill="#000"/><text x="15.29" y="0" font-size="27.5">50</text></g>
<g transform="translate(52.45,326) scale(1.0000,1)"><path transform="translate(0.00,0) scale(0.02750,-0.02750)" d="M378 0H238V472H54V584Q165 588 217 614Q260 638 275 692H378Z" fill="#000"/><text x="15.29" y="0" font-size="27.5">00</text></g>
<g transform="translate(67.08,434.5) scale(1.0211,1)"><text x="0.00" y="0" font-size="27.5">50</text></g>
<g transform="translate(81.82,534.3) scale(1.0792,1)"><text x="0.00" y="0" font-size="27.5">0</text></g>
<g transform="translate(476.15,596) scale(0.9872,1)"><text x="0.00" y="0" font-size="27.5">Time</text></g>
<g transform="translate(546.47,596) scale(1.0179,1)"><text x="0.00" y="0" font-size="27.5">(s)</text></g>
<text x="229.6" y="567.8" font-size="27.5" text-anchor="middle" >0.2</text>
<text x="338.0" y="567.8" font-size="27.5" text-anchor="middle" >0.4</text>
<text x="446.4" y="567.8" font-size="27.5" text-anchor="middle" >0.6</text>
<text x="554.8" y="567.8" font-size="27.5" text-anchor="middle" >0.8</text>
<g transform="translate(644.89,567.8)"><path transform="translate(0.00,0) scale(0.02750,-0.02750)" d="M378 0H238V472H54V584Q165 588 217 614Q260 638 275 692H378Z" fill="#000"/><text x="15.29" y="0" font-size="27.5">.0</text></g>
<g transform="translate(753.29,567.8)"><path transform="translate(0.00,0) scale(0.02750,-0.02750)" d="M378 0H238V472H54V584Q165 588 217 614Q260 638 275 692H378Z" fill="#000"/><text x="15.29" y="0" font-size="27.5">.2</text></g>
<g transform="translate(861.69,567.8)"><path transform="translate(0.00,0) scale(0.02750,-0.02750)" d="M378 0H238V472H54V584Q165 588 217 614Q260 638 275 692H378Z" fill="#000"/><text x="15.29" y="0" font-size="27.5">.4</text></g>
<text transform="translate(31.8,421.3) rotate(-90)" font-size="27.15">Frequency (kHz)</text>
<g transform="translate(603.96,85)"><path transform="translate(0.00,0) scale(0.02750,-0.02750)" d="M378 0H238V472H54V584Q165 588 217 614Q260 638 275 692H378Z" fill="#000"/></g>
<text x="682.6" y="85" font-size="27.5" text-anchor="middle" >2</text>
<text x="752.6" y="85" font-size="27.5" text-anchor="middle" >3</text>
<text x="822.6" y="85" font-size="27.5" text-anchor="middle" >4</text>
<text x="893.6" y="85" font-size="27.5" text-anchor="middle" >5</text>
</g>
</svg>
</body></html>
